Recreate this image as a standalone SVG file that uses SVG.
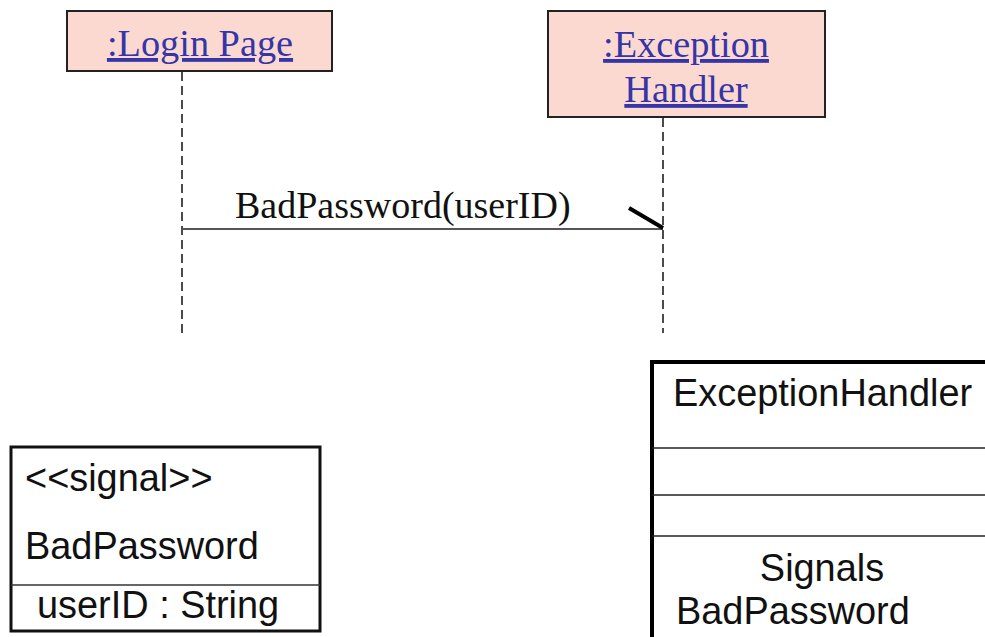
<svg xmlns="http://www.w3.org/2000/svg" width="985" height="637" viewBox="0 0 985 637">
<style>
.obj{fill:#fbd9d0;stroke:#222;stroke-width:2}
.objt{font-family:"Liberation Serif",serif;font-size:38.3px;fill:#3535a8;text-anchor:middle;text-decoration:underline}
.life{stroke:#111;stroke-width:1.5;stroke-dasharray:9,5;fill:none}
.msg{font-family:"Liberation Serif",serif;font-size:38px;fill:#111}
.cls{font-family:"Liberation Sans",sans-serif;font-size:37.9px;fill:#111}
.box{fill:#fff;stroke:#111}
</style>
<rect width="985" height="637" fill="#fff"/>
<g id="login-page">
<rect class="obj" x="67" y="11" width="265" height="60"/>
<text class="objt" x="200" y="56">:Login Page</text>
</g>
<g id="exception-handler-obj">
<rect class="obj" x="548" y="11" width="277" height="106"/>
<text class="objt" x="686" y="57">:Exception</text>
<text class="objt" x="686" y="102">Handler</text>
</g>
<g id="connectors">
<line class="life" x1="182" y1="72" x2="182" y2="333"/>
<line class="life" x1="663" y1="118" x2="663" y2="333"/>
<line x1="182" y1="229" x2="663" y2="229" stroke="#555" stroke-width="2"/>
<line x1="629" y1="208" x2="663" y2="228" stroke="#000" stroke-width="4"/>
<text class="msg" x="235" y="218">BadPassword(userID)</text>
</g>
<g id="signal-badpassword">
<rect class="box" x="11" y="447" width="309" height="184" stroke-width="3"/>
<line x1="11" y1="585" x2="320" y2="585" stroke="#333" stroke-width="1.5"/>
<text class="cls" x="25" y="491">&lt;&lt;signal&gt;&gt;</text>
<text class="cls" x="25" y="559">BadPassword</text>
<text class="cls" x="37" y="618">userID : String</text>
</g>
<g id="exceptionhandler-class">
<path d="M652 639 V362 H990" fill="none" stroke="#000" stroke-width="4"/>
<line x1="652" y1="448" x2="985" y2="448" stroke="#222" stroke-width="1.5"/>
<line x1="652" y1="495" x2="985" y2="495" stroke="#222" stroke-width="1.5"/>
<line x1="652" y1="536" x2="985" y2="536" stroke="#222" stroke-width="1.5"/>
<text class="cls" x="673" y="406">ExceptionHandler</text>
<text class="cls" x="822" y="581" text-anchor="middle">Signals</text>
<text class="cls" x="676" y="624">BadPassword</text>
</g>
</svg>
